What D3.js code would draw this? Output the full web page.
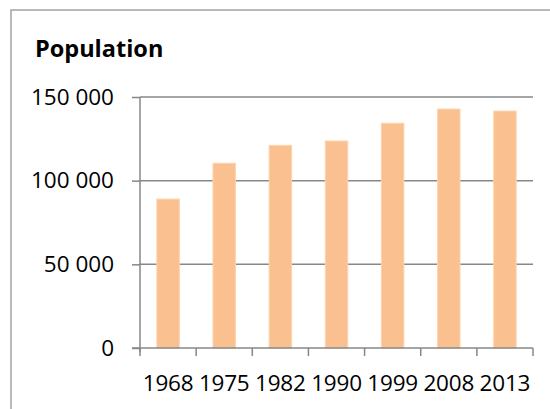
<!DOCTYPE html>
<html>
<head>
<meta charset="utf-8">
<script src="https://cdn.jsdelivr.net/npm/d3@7"></script>
<style>
  body { margin: 0; background: #fff; }
  svg { display: block; }
</style>
</head>
<body>
<div id="chart"></div>
<script>
// --- Data ---
const years = ["1968", "1975", "1982", "1990", "1999", "2008", "2013"];
const population = [89000, 110400, 121100, 123700, 134300, 142800, 141600];
const yTicks = [0, 50000, 100000, 150000];

const W = 550, H = 409;
const plot = { left: 140, right: 533, top: 97, bottom: 348 };
const font = "'Open Sans', sans-serif";
const grey = "#878787";

const svg = d3.select("#chart").append("svg")
    .attr("width", W)
    .attr("height", H);

// outer chart frame (runs off the right / bottom edge)
svg.append("rect")
    .attr("x", 11).attr("y", 10)
    .attr("width", 600).attr("height", 500)
    .attr("fill", "none")
    .attr("stroke", "#a3a3a3")
    .attr("stroke-width", 1.5);

// --- Scales ---
const x = d3.scaleBand()
    .domain(years)
    .range([plot.left, plot.right])
    .paddingInner(0.6)
    .paddingOuter(0.3);

const y = d3.scaleLinear()
    .domain([0, 150000])
    .range([plot.bottom, plot.top]);

// --- Gridlines ---
svg.append("g")
    .selectAll("line")
    .data(yTicks.filter(d => d > 0))
    .join("line")
    .attr("x1", plot.left).attr("x2", plot.right)
    .attr("y1", d => y(d)).attr("y2", d => y(d))
    .attr("stroke", grey)
    .attr("stroke-width", 1.5);

// --- Bars ---
svg.append("g")
    .selectAll("rect")
    .data(population)
    .join("rect")
    .attr("x", (d, i) => x(years[i]))
    .attr("y", d => y(d))
    .attr("width", x.bandwidth())
    .attr("height", d => y(0) - y(d))
    .attr("fill", "#fac090")
    .attr("stroke", "#fcd3ae")
    .attr("stroke-width", 1);

// --- Y axis ---
const fmt = v => d3.format(",")(v).replace(/,/g, " ");
const yAxis = svg.append("g")
    .attr("transform", `translate(${plot.left},0)`)
    .call(d3.axisLeft(y).tickValues(yTicks).tickSize(8).tickPadding(18).tickFormat(fmt));
yAxis.select(".domain").remove();
yAxis.selectAll(".tick line").attr("stroke", grey).attr("stroke-width", 1.5);
yAxis.selectAll("text")
    .attr("fill", "#000")
    .style("font-family", font)
    .style("font-size", "22.5px");
svg.append("line")
    .attr("x1", plot.left).attr("x2", plot.left)
    .attr("y1", plot.top).attr("y2", plot.bottom + 4)
    .attr("stroke", grey).attr("stroke-width", 1.5);

// --- X axis: ticks sit on the category boundaries ---
const bounds = years.map(d => x(d) - x.step() * x.paddingInner() / 2).concat([plot.right]);
const xg = svg.append("g");
xg.append("line")
    .attr("x1", plot.left - 8).attr("x2", plot.right)
    .attr("y1", plot.bottom).attr("y2", plot.bottom)
    .attr("stroke", grey).attr("stroke-width", 1.5);
xg.selectAll("line.tk")
    .data(bounds)
    .join("line")
    .attr("class", "tk")
    .attr("x1", d => d).attr("x2", d => d)
    .attr("y1", plot.bottom).attr("y2", plot.bottom + 8)
    .attr("stroke", grey).attr("stroke-width", 1.5);
xg.selectAll("text")
    .data(years)
    .join("text")
    .attr("x", d => x(d) + x.bandwidth() / 2)
    .attr("y", 391)
    .attr("text-anchor", "middle")
    .style("font-family", font)
    .style("font-size", "22.5px")
    .style("letter-spacing", "-0.2px")
    .text(d => d);

// --- Title ---
svg.append("text")
    .attr("x", 35).attr("y", 57)
    .style("font-family", font)
    .style("font-size", "23.5px")
    .style("font-weight", "bold")
    .text("Population");
</script>
</body>
</html>
